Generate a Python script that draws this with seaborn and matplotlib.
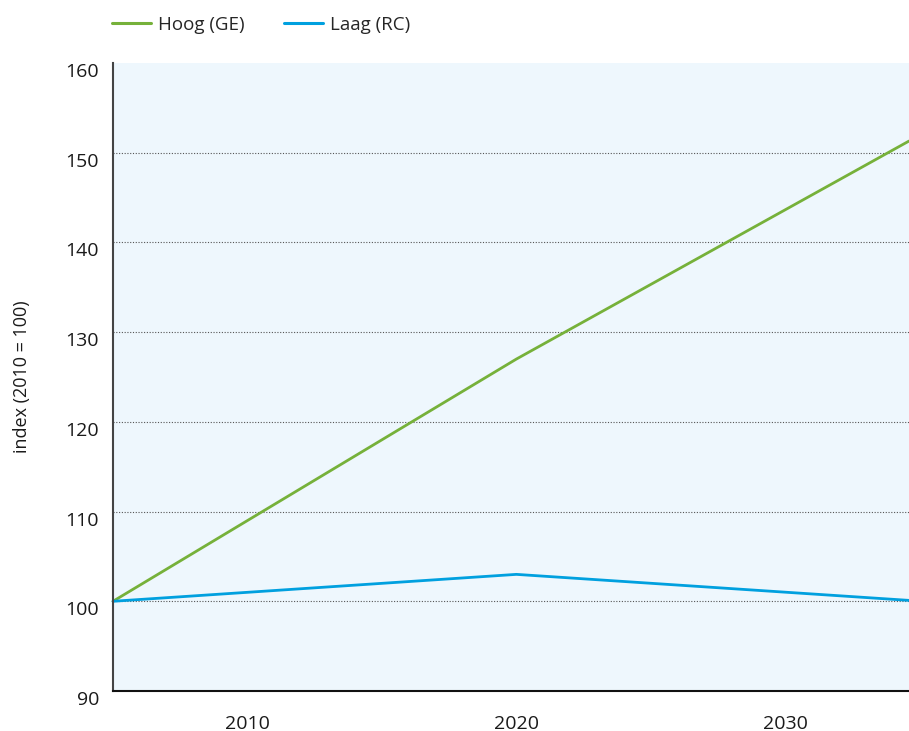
import pandas as pd
import matplotlib.pyplot as plt
import matplotlib.transforms as mtransforms
import seaborn as sns

# Gegevens
jaren = [2005, 2020, 2034.6]
hoog_ge = [100, 127, 151.3]
laag_rc = [100, 103, 100.1]
reeksen = ["Hoog (GE)", "Laag (RC)"]
kleuren = ["#76B13A", "#00A0DF"]
xticks = [2010, 2020, 2030]
yticks = [90, 100, 110, 120, 130, 140, 150, 160]

df = pd.DataFrame({
    "jaar": jaren * 2,
    "index": hoog_ge + laag_rc,
    "scenario": [reeksen[0]] * len(jaren) + [reeksen[1]] * len(jaren),
})

sns.set_style("white")
plt.rcParams["font.family"] = ["Open Sans", "DejaVu Sans"]

fig = plt.figure(figsize=(9.09, 7.31), dpi=100)
ax = fig.add_axes([113 / 909, 1 - 691 / 731, 1 - 113 / 909, (691 - 63) / 731])
ax.set_facecolor("#EEF7FD")

sns.lineplot(data=df, x="jaar", y="index", hue="scenario", palette=kleuren,
             linewidth=2.0, ax=ax, legend=False, clip_on=False)

ax.set_xlim(2005, 2034.6)
ax.set_ylim(90, 160)
ax.set_xticks(xticks)
ax.set_yticks(yticks)
ax.tick_params(axis="both", length=0, labelsize=14, colors="#1a1a1a")
ax.tick_params(axis="x", pad=17)
ax.tick_params(axis="y", pad=10)

# y-labels iets onder de rasterlijn
offset = mtransforms.ScaledTranslation(0, -7 / 100, fig.dpi_scale_trans)
for lbl in ax.get_yticklabels():
    lbl.set_transform(lbl.get_transform() + offset)

for y in yticks[1:-1]:
    ax.axhline(y, color="#555555", linestyle=(0, (1, 1.5)), linewidth=0.8, zorder=0.5)

for side in ["top", "right"]:
    ax.spines[side].set_visible(False)
ax.spines["left"].set_color("#444444")
ax.spines["left"].set_linewidth(1.5)
ax.spines["bottom"].set_color("#111111")
ax.spines["bottom"].set_linewidth(1.5)

ax.set_xlabel("")
ax.set_ylabel("index (2010 = 100)", fontsize=13, color="#1a1a1a", labelpad=25)

handles = [plt.Line2D([], [], color=c, linewidth=2.2) for c in kleuren]
fig.legend(handles, reeksen, loc="upper left", bbox_to_anchor=(95 / 909, 1 + 1 / 731),
           ncol=2, frameon=False, fontsize=13.5, handlelength=2.1, handletextpad=0.35,
           columnspacing=2.1)

plt.savefig("out.png", dpi=100)
